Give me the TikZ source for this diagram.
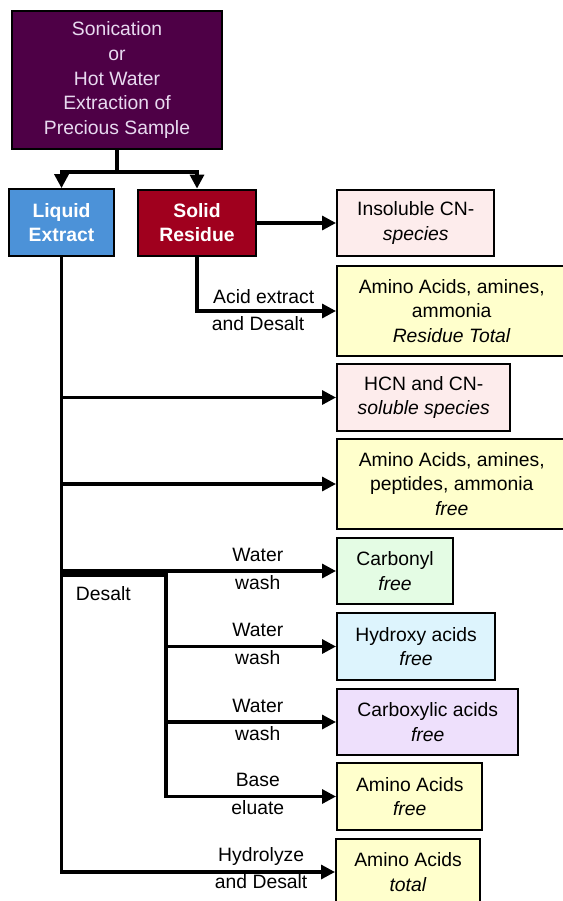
\documentclass[tikz,border=0pt]{standalone}
\usepackage{fontspec}
\setmainfont{Liberation Sans}
\usetikzlibrary{arrows.meta}

\definecolor{samplepurple}{RGB}{78,0,70}
\definecolor{samplelilac}{RGB}{232,218,240}
\definecolor{liquidblue}{RGB}{76,146,216}
\definecolor{residuered}{RGB}{160,0,30}
\definecolor{cnpink}{RGB}{253,236,236}
\definecolor{aayellow}{RGB}{255,255,204}
\definecolor{carbgreen}{RGB}{228,252,228}
\definecolor{hydroxyblue}{RGB}{221,244,253}
\definecolor{carboxpurple}{RGB}{238,224,252}

\begin{document}
\begin{tikzpicture}[x=0.75pt, y=-0.75pt,
    box/.style={draw=black, line width=1.6pt, align=center, inner sep=2pt,
      font=\fontsize{14.5}{18.5}\selectfont},
    fraction/.style={box, text=white, minimum height=50pt,
      font=\fontsize{14.5}{18}\selectfont\bfseries},
    result/.style={box, anchor=west, minimum height=50pt},
    flow/.style={line width=2.4pt},
    arr/.style={flow, -{Triangle[length=10.5pt,width=10.5pt]}},
    lbl/.style={font=\fontsize{14.5}{17}\selectfont, inner sep=1pt}]

\useasboundingbox (0,0) rectangle (562,901);

% Extraction step
\node[box, fill=samplepurple, text=samplelilac, minimum width=157.5pt, minimum height=103.5pt] (sample) at (117,80)
  {Sonication\\or\\Hot Water\\Extraction of\\Precious Sample};

% The two fractions
\node[fraction, fill=liquidblue, minimum width=79pt] (liquid) at (61.5,222.5) {Liquid\\Extract};
\node[fraction, fill=residuered, minimum width=88.5pt] (solid) at (197,223) {Solid\\Residue};

% Products of the solid residue
\node[result, fill=cnpink, minimum width=118pt] (insol) at (336,223) {Insoluble CN-\\\textit{species}};
\node[result, fill=aayellow, minimum width=172pt, minimum height=67.5pt] (aares) at (336,311)
  {Amino Acids, amines,\\ammonia\\\textit{Residue Total}};

% Products of the liquid extract
\node[result, fill=cnpink, minimum width=130pt] (hcn) at (336,397.5) {HCN and CN-\\\textit{soluble species}};
\node[result, fill=aayellow, minimum width=172pt, minimum height=67.5pt] (aafree) at (336,484)
  {Amino Acids, amines,\\peptides, ammonia\\\textit{free}};
\node[result, fill=carbgreen, minimum width=87pt] (carb) at (336,571) {Carbonyl\\\textit{free}};
\node[result, fill=hydroxyblue, minimum width=118.5pt] (hydroxy) at (336,646.5) {Hydroxy acids\\\textit{free}};
\node[result, fill=carboxpurple, minimum width=136pt] (carbox) at (336,722) {Carboxylic acids\\\textit{free}};
\node[result, fill=aayellow, minimum width=109pt] (aminofree) at (336,796.5) {Amino Acids\\\textit{free}};
\node[result, fill=aayellow, minimum width=108pt] (aminotot) at (335,872) {Amino Acids\\\textit{total}};

% Split of the sample
\draw[flow] (sample.south) -- ++(0,22) coordinate (fork);
\draw[arr] (fork) -| (liquid.north);
\draw[arr] (fork) -| (solid.north);

% Solid residue
\draw[arr] (solid.east) -- (insol.west);
\draw[arr] (solid.south) |- node[lbl, above=3pt, pos=.74] {Acid extract}
  node[lbl, below=2pt, pos=.72] {and Desalt} (aares.west);

% Liquid extract
\draw[arr] (liquid.south) |- node[lbl, above=3pt, pos=.865] {Hydrolyze}
  node[lbl, below=0pt, pos=.865] {and Desalt} (aminotot.west);
\draw[arr] (liquid.south |- hcn.west) -- (hcn.west);
\draw[arr] (liquid.south |- aafree.west) -- (aafree.west);

% Desalt column
\coordinate (desalt) at (liquid.south |- carb.west);
\path (desalt) ++(104.5,0) coordinate (wash);
\draw[line width=5.5pt] ([yshift=-1.6pt]desalt) -- node[lbl, below=6pt, pos=.4] {Desalt} ([yshift=-1.6pt]wash);
\draw[arr] (wash) -- node[lbl, above=5pt, pos=.54] {Water} node[lbl, below=1pt, pos=.54] {wash} (carb.west);
\draw[arr] (wash |- hydroxy.west) -- node[lbl, above=5pt, pos=.54] {Water}
  node[lbl, below=1pt, pos=.54] {wash} (hydroxy.west);
\draw[arr] (wash |- carbox.west) -- node[lbl, above=5pt, pos=.54] {Water}
  node[lbl, below=1pt, pos=.54] {wash} (carbox.west);
\draw[arr] (wash) |- node[lbl, above=5pt, pos=.77] {Base}
  node[lbl, below=1pt, pos=.77] {eluate} (aminofree.west);
\end{tikzpicture}
\end{document}
